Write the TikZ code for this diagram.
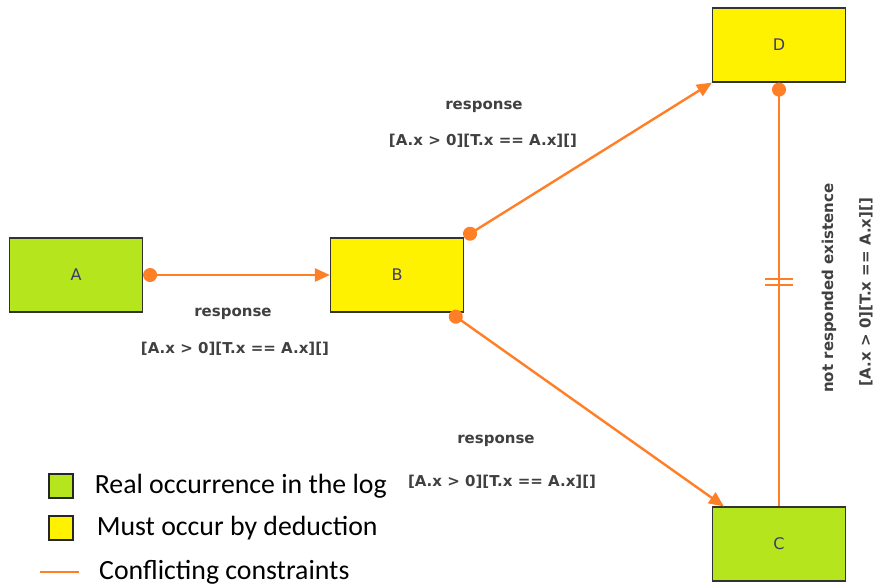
\documentclass[tikz,border=0pt]{standalone}
\usepackage{fontspec}
\setmainfont{DejaVu Sans}
\newfontfamily\legendfont{Carlito}
\usetikzlibrary{arrows.meta,positioning}
\definecolor{realgreen}{RGB}{181,230,29}
\definecolor{mustyellow}{RGB}{255,242,0}
\definecolor{conflict}{RGB}{255,127,39}
\definecolor{labelgray}{RGB}{64,64,64}
\definecolor{taskblue}{RGB}{60,60,110}

\tikzset{
  task/.style={draw=black!80, line width=1.2pt, minimum width=133pt, minimum height=74pt, inner sep=0pt, font=\fontsize{16}{18}\selectfont, text=taskblue},
  real/.style={task, fill=realgreen},
  must/.style={task, fill=mustyellow},
  constraint/.style={draw=conflict, line width=2.4pt},
  response/.style={constraint, {Circle[length=14pt]}-{Triangle[length=15pt,width=13pt]}},
  notresp/.style={constraint, {Circle[length=14pt]}-},
  rel/.style={font=\bfseries\fontsize{15}{17}\selectfont, text=labelgray, inner sep=0pt},
  legendbox/.style={draw=black!85, line width=1.2pt, minimum size=24pt, inner sep=0pt},
  legendtext/.style={font=\legendfont\fontsize{27.8}{30}\selectfont, anchor=west, inner sep=0pt}
}

\begin{document}
\begin{tikzpicture}[x=1pt, y=-1pt]
    \useasboundingbox (0,0) rectangle (877,585);
    \node[real] (A) at (76,275) {A};
    \node[must] (B) at (397,275) {B};
    \node[must] (D) at (779,45) {D};
    \node[real] (C) at (779,544) {C};
    \draw[response] (A) -- (B);
    \draw[response] (B.north east) -- (D.south west);
    \draw[response] ([xshift=-14pt]B.south east) -- ([xshift=12pt]C.north west);
    \draw[notresp] (D.south) -- coordinate[pos=0.47] (cut) (C.north);
    \draw[conflict, line width=1.6pt] ([shift={(-14,-3)}]cut) -- ([shift={(14,-3)}]cut)
        ([shift={(-14,3)}]cut) -- ([shift={(14,3)}]cut);
    % constraint labels
    \node[rel] (resAB) at (233,314) {response};
    \node[rel] (condAB) at (235,349) {[A.x > 0][T.x == A.x][]};
    \node[rel] (resBD) at (484,107) {response};
    \node[rel] (condBD) at (483,141) {[A.x > 0][T.x == A.x][]};
    \node[rel] (resBC) at (496,441) {response};
    \node[rel] (condBC) at (502,482) {[A.x > 0][T.x == A.x][]};
    \node[rel, rotate=90] (resDC) at (829,288) {not responded existence};
    \node[rel, rotate=90] (condDC) at (866,292) {[A.x > 0][T.x == A.x][]};
    % legend
    \node[legendbox, fill=realgreen] (keyreal) at (61,486) {};
    \node[legendtext, right=21pt of keyreal] (txtreal) {Real occurrence in the log};
    \node[legendbox, fill=mustyellow] (keymust) at (61,528) {};
    \node[legendtext, right=23pt of keymust] (txtmust) {Must occur by deduction};
    \coordinate (keyfrom) at (40,572);
    \coordinate (keyto) at (79,572);
    \draw[constraint] (keyfrom) -- (keyto);
    \node[legendtext, right=20pt of keyto] (txtconflict) {Conflicting constraints};
\end{tikzpicture}
\end{document}
